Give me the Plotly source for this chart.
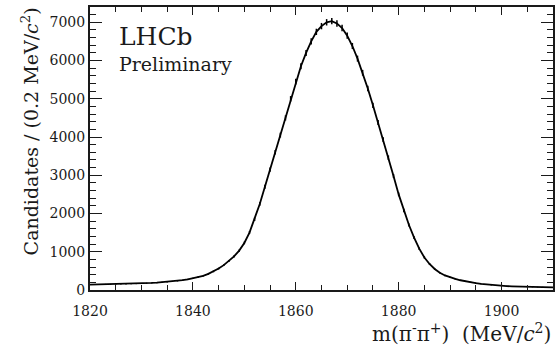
import plotly.graph_objects as go

mass = list(range(1820, 1911))
counts = [
    140, 142, 145, 147, 149, 152, 154, 158, 162, 166,   # 1820-1829
    171, 177, 184, 192, 201, 212, 224, 238, 256, 277,   # 1830-1839
    302, 333, 372, 422, 485, 560, 650, 760, 880, 1030,  # 1840-1849
    1230, 1500, 1850, 2250, 2700, 3150, 3600, 4050, 4500, 5000,  # 1850-1859
    5450, 5850, 6200, 6500, 6750, 6900, 7000, 7030, 6970, 6850,  # 1860-1869
    6650, 6380, 6050, 5680, 5270, 4830, 4380, 3930, 3460, 2980,  # 1870-1879
    2500, 2080, 1700, 1370, 1080, 850, 680, 550, 450, 380,       # 1880-1889
    330, 290, 255, 225, 200, 180, 160, 145, 130, 118,            # 1890-1899
    110, 102, 96, 91, 86, 82, 79, 76, 74, 72, 70,                # 1900-1910
]
errors = [c ** 0.5 for c in counts]

x_ticks = [1820, 1840, 1860, 1880, 1900]
y_ticks = [0, 1000, 2000, 3000, 4000, 5000, 6000, 7000]

font_fam = "DejaVu Serif"
ink = "#1a1a1a"

fig = go.Figure()
fig.add_trace(go.Scatter(
    x=mass, y=counts, mode="lines",
    line=dict(color="black", width=1.8),
    error_y=dict(type="data", array=errors, color="black", thickness=1.5, width=0),
    showlegend=False,
))

fig.update_layout(
    width=558, height=347,
    margin=dict(l=90, r=3, t=7, b=57),
    paper_bgcolor="white", plot_bgcolor="white",
    font=dict(family=font_fam, color=ink, size=14),
    xaxis=dict(
        range=[1820, 1910], tickvals=x_ticks, ticktext=[str(v) for v in x_ticks],
        ticks="inside", ticklen=8, tickwidth=1.2, tickcolor=ink,
        minor=dict(dtick=5, ticks="inside", ticklen=5, tickwidth=1, tickcolor=ink),
        showline=True, linecolor=ink, linewidth=2, mirror="allticks",
        showgrid=False, zeroline=False, ticklabelstandoff=7,
        tickfont=dict(size=14, family=font_fam, color=ink),
    ),
    yaxis=dict(
        range=[0, 7400], tickvals=y_ticks, ticktext=[str(v) for v in y_ticks],
        ticks="inside", ticklen=12, tickwidth=1.2, tickcolor=ink,
        minor=dict(dtick=200, ticks="inside", ticklen=6, tickwidth=1, tickcolor=ink),
        showline=True, linecolor=ink, linewidth=2, mirror="allticks",
        showgrid=False, zeroline=False,
        tickfont=dict(size=14, family=font_fam, color=ink),
    ),
    annotations=[
        dict(text="LHCb", xref="paper", yref="paper", x=0.058, y=0.955,
             xanchor="left", yanchor="top", showarrow=False,
             font=dict(size=25, family=font_fam, color=ink)),
        dict(text="Preliminary", xref="paper", yref="paper", x=0.058, y=0.845,
             xanchor="left", yanchor="top", showarrow=False,
             font=dict(size=19, family=font_fam, color=ink)),
        dict(text="Candidates / (0.2 MeV/<i>c</i><sup>2</sup>)", xref="paper", yref="paper",
             x=-0.13, y=1.005, xanchor="center", yanchor="top", textangle=-90, showarrow=False,
             font=dict(size=19, family=font_fam, color=ink)),
        dict(text="m(π<sup>-</sup>π<sup>+</sup>)  (MeV/<i>c</i><sup>2</sup>)", xref="paper", yref="paper",
             x=1.0, y=-0.1, xanchor="right", yanchor="top", showarrow=False,
             font=dict(size=20, family=font_fam, color=ink)),
    ],
)

fig.write_html("out.html")
